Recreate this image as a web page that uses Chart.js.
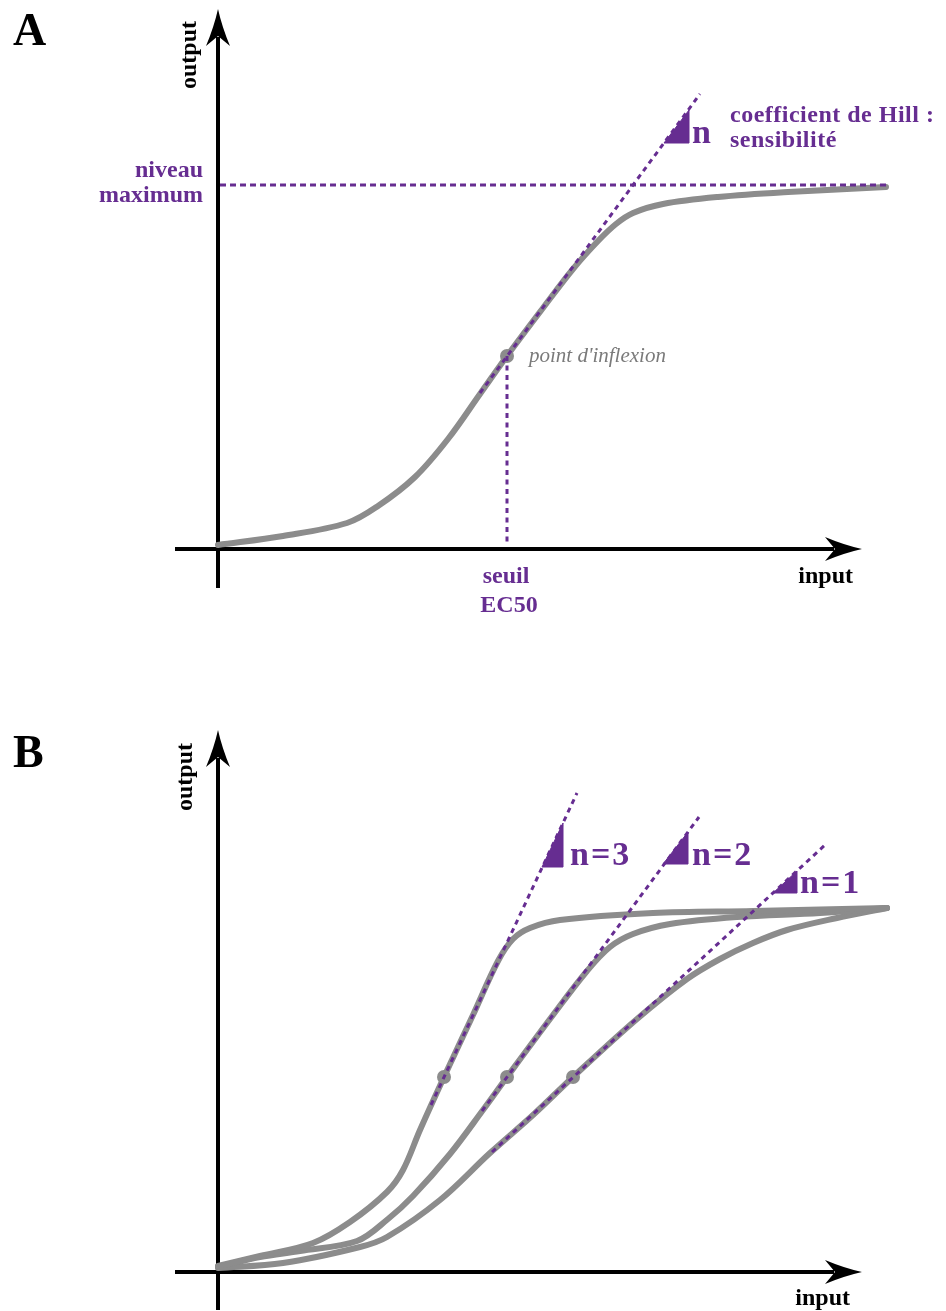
<!DOCTYPE html>
<html>
<head>
<meta charset="utf-8">
<script src="https://cdn.jsdelivr.net/npm/chart.js@4.4.1/dist/chart.umd.min.js"></script>
<style>
  html, body { margin: 0; padding: 0; background: #fff; }
  #wrap { position: relative; width: 946px; height: 1311px; }
  canvas { position: absolute; left: 0; }
</style>
</head>
<body>
<div id="wrap">
  <canvas id="chartA" width="946" height="655" style="top:0"></canvas>
  <canvas id="chartB" width="946" height="656" style="top:655px"></canvas>
</div>
<script>
// values in input / output units, origin where the two axes cross

// --- panel A : one Hill curve
var curveA_x = [0, 0.65, 1.29, 1.60, 1.97, 2.30, 2.62, 2.89, 3.25, 3.55, 3.80, 3.98, 4.15, 4.45, 5.00, 5.70, 6.68];
var curveA_y = [0.04, 0.13, 0.26, 0.43, 0.72, 1.10, 1.55, 1.93, 2.41, 2.80, 3.08, 3.25, 3.36, 3.45, 3.52, 3.57, 3.62];
var inflexionA_x = [2.89];
var inflexionA_y = [1.93];
var tangentA_x = [2.62, 4.82];
var tangentA_y = [1.56, 4.55];
var maxLevel_x = [0.02, 6.70];
var maxLevel_y = [3.64, 3.64];
var ec50_x = [2.89, 2.89];
var ec50_y = [1.93, 0.04];
var triangleA_x = [4.46, 4.71, 4.71];
var triangleA_y = [4.06, 4.06, 4.39];

// --- panel B : three Hill coefficients
var curveN3_x = [0, 0.42, 0.95, 1.32, 1.69, 1.85, 2.02, 2.26, 2.55, 2.80, 2.95, 3.12, 3.42, 4.35, 5.35, 6.69];
var curveN3_y = [0.06, 0.16, 0.29, 0.50, 0.80, 1.02, 1.42, 1.95, 2.57, 3.11, 3.33, 3.44, 3.52, 3.59, 3.61, 3.64];
var curveN2_x = [0, 0.42, 0.82, 1.39, 1.70, 1.95, 2.32, 2.65, 2.89, 3.35, 3.69, 3.92, 4.15, 4.52, 5.19, 6.02, 6.69];
var curveN2_y = [0.05, 0.15, 0.21, 0.31, 0.53, 0.76, 1.18, 1.62, 1.95, 2.57, 3.01, 3.25, 3.38, 3.48, 3.55, 3.59, 3.64];
var curveN1_x = [0, 0.65, 1.42, 1.69, 2.22, 2.72, 3.15, 3.55, 4.19, 4.69, 5.02, 5.35, 5.69, 6.19, 6.69];
var curveN1_y = [0.04, 0.09, 0.25, 0.35, 0.72, 1.19, 1.57, 1.95, 2.53, 2.93, 3.13, 3.29, 3.42, 3.54, 3.64];
var inflexionB_x = [2.26, 2.89, 3.55];
var inflexionB_y = [1.95, 1.95, 1.95];
var tangentN3_x = [2.13, 3.59];
var tangentN3_y = [1.67, 4.79];
var tangentN2_x = [2.64, 4.81];
var tangentN2_y = [1.61, 4.55];
var tangentN1_x = [2.74, 6.07];
var tangentN1_y = [1.20, 4.27];
var triangleN3_x = [3.24, 3.45, 3.45];
var triangleN3_y = [4.05, 4.05, 4.49];
var triangleN2_x = [4.45, 4.70, 4.70];
var triangleN2_y = [4.08, 4.08, 4.40];
var triangleN1_x = [5.55, 5.79, 5.79];
var triangleN1_y = [3.79, 3.79, 4.01];

// texts
var panelNames = ['A', 'B'];
var axisNames = ['input', 'output'];
var maxLabel = ['niveau', 'maximum'];
var ec50Label = ['seuil', 'EC50'];
var hillLabel = ['coefficient de Hill :', 'sensibilité'];
var slopeLabel = 'n';
var inflexionLabel = "point d'inflexion";
var hillValues = ['n=3', 'n=2', 'n=1'];

var PURPLE = '#662d91';
var GREY = '#8c8c8c';
var SERIF = '"Liberation Serif", "Times New Roman", serif';

function pts(xs, ys) {
  return xs.map(function (x, i) { return { x: x, y: ys[i] }; });
}
function curveSet(xs, ys) {
  return { data: pts(xs, ys), showLine: true, borderColor: GREY, borderWidth: 6, pointRadius: 0,
    tension: 0.35, borderCapStyle: 'round', borderJoinStyle: 'round', order: 3 };
}
function dashSet(xs, ys, dash) {
  return { data: pts(xs, ys), showLine: true, borderColor: PURPLE, borderWidth: 3, borderDash: dash || [5, 4.5],
    borderCapStyle: 'butt', pointRadius: 0, tension: 0, order: 1 };
}
function dotSet(xs, ys) {
  return { data: pts(xs, ys), showLine: false, pointRadius: 7, pointHoverRadius: 7,
    pointBackgroundColor: GREY, pointBorderWidth: 0, order: 2 };
}
function triSet(xs, ys) {
  var p = pts(xs, ys);
  p.push(p[0]);
  return { data: p, showLine: true, fill: 'shape', backgroundColor: PURPLE, borderColor: PURPLE, borderWidth: 1,
    pointRadius: 0, tension: 0, order: 0 };
}

function arrowHead(ctx, x, y, ang) {
  ctx.save();
  ctx.translate(x, y);
  ctx.rotate(ang);
  ctx.beginPath();
  ctx.moveTo(0, 0);
  ctx.quadraticCurveTo(-18, -4, -37, -12);
  ctx.lineTo(-27, 0);
  ctx.lineTo(-37, 12);
  ctx.quadraticCurveTo(-18, 4, 0, 0);
  ctx.closePath();
  ctx.fill();
  ctx.restore();
}

var arrowAxes = {
  id: 'arrowAxes',
  beforeDatasetsDraw: function (chart, args, opts) {
    var ctx = chart.ctx, sx = chart.scales.x, sy = chart.scales.y;
    var x0 = sx.getPixelForValue(0), y0 = sy.getPixelForValue(0);
    var xa = sx.getPixelForValue(opts.x[0]), xb = sx.getPixelForValue(opts.x[1]);
    var ya = sy.getPixelForValue(opts.y[0]), yb = sy.getPixelForValue(opts.y[1]);
    ctx.save();
    ctx.strokeStyle = '#000';
    ctx.fillStyle = '#000';
    ctx.lineWidth = 4;
    ctx.beginPath();
    ctx.moveTo(xa, y0); ctx.lineTo(xb - 28, y0);
    ctx.moveTo(x0, ya); ctx.lineTo(x0, yb + 28);
    ctx.stroke();
    arrowHead(ctx, xb, y0, 0);
    arrowHead(ctx, x0, yb, -Math.PI / 2);
    ctx.restore();
  }
};

var notes = {
  id: 'notes',
  afterDatasetsDraw: function (chart, args, opts) {
    var ctx = chart.ctx, sx = chart.scales.x, sy = chart.scales.y;
    ctx.save();
    opts.items.forEach(function (it) {
      ctx.save();
      ctx.translate(sx.getPixelForValue(it.x), sy.getPixelForValue(it.y));
      if (it.rot) ctx.rotate(it.rot);
      ctx.font = it.font;
      ctx.fillStyle = it.color || '#000';
      ctx.textAlign = it.align || 'left';
      ctx.textBaseline = 'alphabetic';
      if (it.spacing) ctx.letterSpacing = it.spacing;
      ctx.fillText(it.t, 0, 0);
      ctx.restore();
    });
    ctx.restore();
  }
};

function makeChart(id, datasets, yMin, yMax, axes, items) {
  return new Chart(document.getElementById(id), {
    type: 'scatter',
    data: { datasets: datasets },
    options: {
      animation: false,
      responsive: false,
      events: [],
      layout: { padding: 0, autoPadding: false },
      datasets: { scatter: { clip: false } },
      scales: {
        x: { type: 'linear', display: false, min: -2.18, max: 7.28 },
        y: { type: 'linear', display: false, min: yMin, max: yMax }
      },
      plugins: {
        legend: { display: false },
        tooltip: { enabled: false },
        arrowAxes: axes,
        notes: { items: items }
      }
    },
    plugins: [arrowAxes, notes]
  });
}

var bold24 = 'bold 24px ' + SERIF;

var chartA = makeChart('chartA', [
  triSet(triangleA_x, triangleA_y),
  dashSet(tangentA_x, tangentA_y),
  dashSet(maxLevel_x, maxLevel_y, [6, 4]),
  dashSet(ec50_x, ec50_y),
  dotSet(inflexionA_x, inflexionA_y),
  curveSet(curveA_x, curveA_y)
], -1.06, 5.49, { x: [-0.43, 6.44], y: [-0.39, 5.40] }, [
  { t: panelNames[0], x: -2.05, y: 5.04, font: 'bold 46px ' + SERIF },
  { t: axisNames[1], x: -0.22, y: 4.94, font: bold24, align: 'center', rot: -Math.PI / 2 },
  { t: axisNames[0], x: 6.35, y: -0.34, font: bold24, align: 'right' },
  { t: maxLabel[0], x: -0.15, y: 3.72, font: bold24, color: PURPLE, align: 'right' },
  { t: maxLabel[1], x: -0.15, y: 3.47, font: bold24, color: PURPLE, align: 'right' },
  { t: ec50Label[0], x: 2.88, y: -0.34, font: bold24, color: PURPLE, align: 'center' },
  { t: ec50Label[1], x: 2.91, y: -0.63, font: bold24, color: PURPLE, align: 'center' },
  { t: slopeLabel, x: 4.74, y: 4.06, font: 'bold 34px ' + SERIF, color: PURPLE },
  { t: hillLabel[0], x: 5.12, y: 4.27, font: bold24, color: PURPLE, spacing: '0.5px' },
  { t: hillLabel[1], x: 5.12, y: 4.02, font: bold24, color: PURPLE, spacing: '0.5px' },
  { t: inflexionLabel, x: 3.11, y: 1.87, font: 'italic 21px ' + SERIF, color: '#7a7a7a' }
]);

var chartB = makeChart('chartB', [
  triSet(triangleN3_x, triangleN3_y),
  triSet(triangleN2_x, triangleN2_y),
  triSet(triangleN1_x, triangleN1_y),
  dashSet(tangentN3_x, tangentN3_y),
  dashSet(tangentN2_x, tangentN2_y),
  dashSet(tangentN1_x, tangentN1_y),
  dotSet(inflexionB_x, inflexionB_y),
  curveSet(curveN3_x, curveN3_y),
  curveSet(curveN2_x, curveN2_y),
  curveSet(curveN1_x, curveN1_y)
], -0.39, 6.17, { x: [-0.43, 6.44], y: [-0.38, 5.42] }, [
  { t: panelNames[1], x: -2.05, y: 5.05, font: 'bold 46px ' + SERIF },
  { t: axisNames[1], x: -0.26, y: 4.95, font: bold24, align: 'center', rot: -Math.PI / 2 },
  { t: axisNames[0], x: 6.32, y: -0.33, font: bold24, align: 'right' },
  { t: hillValues[0], x: 3.52, y: 4.07, font: 'bold 34px ' + SERIF, color: PURPLE, spacing: '2px' },
  { t: hillValues[1], x: 4.74, y: 4.07, font: 'bold 34px ' + SERIF, color: PURPLE, spacing: '2px' },
  { t: hillValues[2], x: 5.82, y: 3.79, font: 'bold 34px ' + SERIF, color: PURPLE, spacing: '2px' }
]);
</script>
</body>
</html>
